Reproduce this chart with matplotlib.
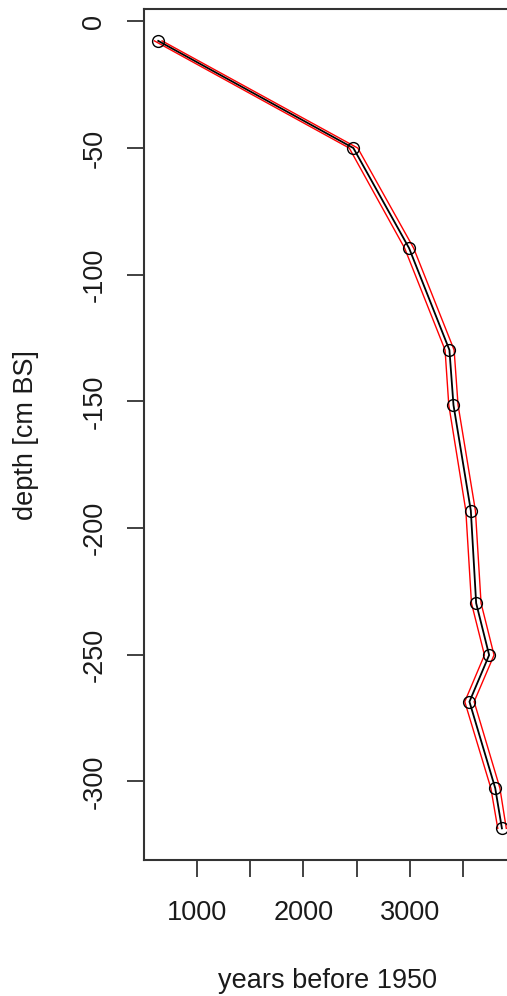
import matplotlib
matplotlib.use("Agg")
from matplotlib import pyplot as plt

plt.rcParams["font.family"] = ["Liberation Sans", "DejaVu Sans"]

# age-depth model
depth = [-7.7, -50, -89.5, -129.7, -151.4, -193.1, -229.6, -250.1, -268.5, -302.6, -318.5]
age = [636, 2469, 2992, 3371, 3409, 3572, 3622, 3744, 3559, 3801, 3864]
# red envelope (younger / older bound)
age_lo = [600, 2430, 2950, 3330, 3365, 3525, 3578, 3700, 3515, 3760, 3825]
age_hi = [672, 2510, 3035, 3415, 3452, 3615, 3668, 3790, 3603, 3845, 3905]

xticks = [1000, 1500, 2000, 2500, 3000, 3500]
xticklabels = ["1000", "", "2000", "", "3000", ""]
yticks = [0, -50, -100, -150, -200, -250, -300]

fig = plt.figure(figsize=(5.07, 9.96), dpi=100)
ax = fig.add_axes([0.2846, 0.1365, 0.7312, 0.8541])

ax.plot(age_lo, depth, color="red", linewidth=1.0)
ax.plot(age_hi, depth, color="red", linewidth=1.0)
ax.plot(age, depth, color="black", linewidth=1.3, marker="o",
        markerfacecolor="none", markeredgecolor="black", markersize=8.5,
        markeredgewidth=1.0)

ax.set_xlim(505, 3987)
ax.set_ylim(-331.0, 4.74)

ax.set_xticks(xticks)
ax.set_xticklabels(xticklabels)
ax.set_yticks(yticks)
ax.set_yticklabels([str(v) for v in yticks], rotation=90, va="center")

for s in ax.spines.values():
    s.set_linewidth(1.5)
    s.set_color("#333333")
ax.tick_params(axis="both", length=12, width=1.3, color="#333333",
               labelsize=19.5, labelcolor="#1a1a1a")
ax.tick_params(axis="x", pad=17)
ax.tick_params(axis="y", pad=14.5)

fig.text(0.645, 0.002, "years before 1950", ha="center", va="bottom",
         fontsize=19.5, color="#1a1a1a")
fig.text(0.051, 0.5636, "depth [cm BS]", ha="center", va="center",
         rotation=90, fontsize=19.5, color="#1a1a1a")

fig.savefig("out.png", dpi=100)
